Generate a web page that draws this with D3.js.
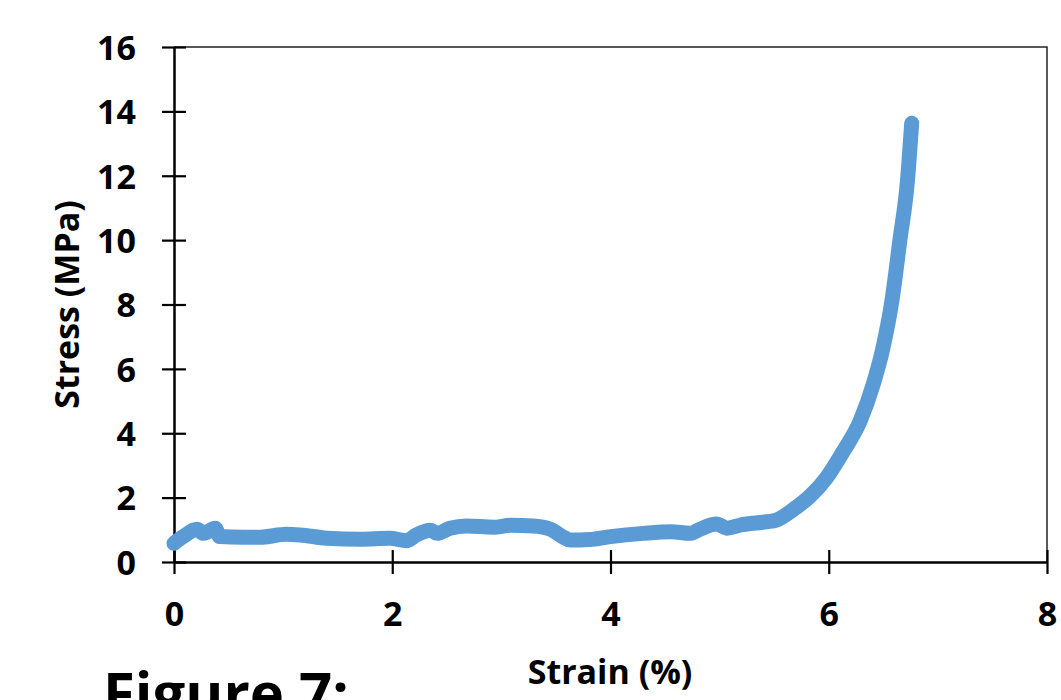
<!DOCTYPE html>
<html>
<head>
<meta charset="utf-8">
<script src="https://cdn.jsdelivr.net/npm/d3@7"></script>
<style>
  html, body { margin: 0; padding: 0; background: #fff; overflow: hidden; }
  text { font-family: "Open Sans", sans-serif; font-weight: bold; fill: #000; }
</style>
</head>
<body>
<svg id="chart" width="1061" height="700"></svg>
<script>
var strain = [0, 0.085, 0.21, 0.27, 0.376, 0.42, 0.635, 0.79, 1.03, 1.155, 1.40, 1.705, 1.98, 2.13, 2.22, 2.35, 2.41, 2.53,
              2.68, 2.93, 3.08, 3.29, 3.45, 3.57, 3.63, 3.81, 4.0, 4.30, 4.55, 4.73, 4.82, 4.97, 5.07, 5.19, 5.43, 5.52,
              5.68, 5.83, 5.98, 6.13, 6.29, 6.41, 6.49, 6.58, 6.65, 6.72, 6.76];
var stress = [0.58, 0.79, 1.02, 0.89, 1.05, 0.79, 0.77, 0.77, 0.86, 0.84, 0.74, 0.71, 0.74, 0.66, 0.84, 0.99, 0.89, 1.05,
              1.12, 1.08, 1.14, 1.12, 1.02, 0.77, 0.68, 0.70, 0.79, 0.89, 0.94, 0.89, 1.02, 1.18, 1.05, 1.15, 1.25, 1.30,
              1.64, 2.05, 2.62, 3.42, 4.40, 5.55, 6.55, 8.14, 9.95, 11.80, 13.63];
var xTicks = [0, 2, 4, 6, 8],
    yTicks = [0, 2, 4, 6, 8, 10, 12, 14, 16];

var svg = d3.select("#chart");

var plotLeft = 174, plotRight = 1047, plotTop = 47, plotBottom = 562;

var x = d3.scaleLinear().domain([0, 8]).range([plotLeft, plotRight]);
var y = d3.scaleLinear().domain([0, 16]).range([plotBottom, plotTop]);

// plot area frame (top and right)
svg.append("path")
    .attr("d", "M" + plotLeft + "," + plotTop + "H" + plotRight + "V" + plotBottom)
    .attr("fill", "none")
    .attr("stroke", "#222")
    .attr("stroke-width", 1.5);

// y axis
let yAxis = svg.append("g")
    .attr("transform", "translate(" + plotLeft + ",0)")
    .call(d3.axisLeft(y).tickValues(yTicks).tickSize(12).tickSizeOuter(0).tickPadding(26));
yAxis.select(".domain").attr("stroke", "#000").attr("stroke-width", 2.5);
yAxis.selectAll(".tick line")
    .attr("x1", -12).attr("x2", 12)
    .attr("stroke", "#000").attr("stroke-width", 2.2);
yAxis.selectAll(".tick text")
    .attr("font-size", 34)
    .attr("font-family", "Open Sans")
    .attr("dy", "0.36em");

// x axis
let xAxis = svg.append("g")
    .attr("transform", "translate(0," + plotBottom + ")")
    .call(d3.axisBottom(x).tickValues(xTicks).tickSize(12).tickSizeOuter(0).tickPadding(28));
xAxis.select(".domain").attr("stroke", "#000").attr("stroke-width", 2.5);
xAxis.selectAll(".tick line")
    .attr("y1", -12).attr("y2", 12)
    .attr("stroke", "#000").attr("stroke-width", 2.2);
xAxis.selectAll(".tick text")
    .attr("font-size", 34)
    .attr("font-family", "Open Sans")
    .attr("dy", "0.71em");

// the curve
let points = strain.map(function(d, i) { return [d, stress[i]]; });
let line = d3.line()
    .x(function(d) { return x(d[0]); })
    .y(function(d) { return y(d[1]); })
    .curve(d3.curveMonotoneX);

svg.append("path")
    .datum(points)
    .attr("d", line)
    .attr("fill", "none")
    .attr("stroke", "#5B9BD5")
    .attr("stroke-width", 15)
    .attr("stroke-linecap", "round")
    .attr("stroke-linejoin", "round");

// axis titles
svg.append("text")
    .attr("transform", "translate(79," + ((plotTop + plotBottom) / 2) + ") rotate(-90)")
    .attr("text-anchor", "middle")
    .attr("font-size", 34)
    .text("Stress (MPa)");

svg.append("text")
    .attr("x", 610)
    .attr("y", 684)
    .attr("text-anchor", "middle")
    .attr("font-size", 34)
    .text("Strain (%)");

svg.append("text")
    .attr("x", 103)
    .attr("y", 714)
    .attr("font-size", 58)
    .text("Figure 7:");
</script>
</body>
</html>
